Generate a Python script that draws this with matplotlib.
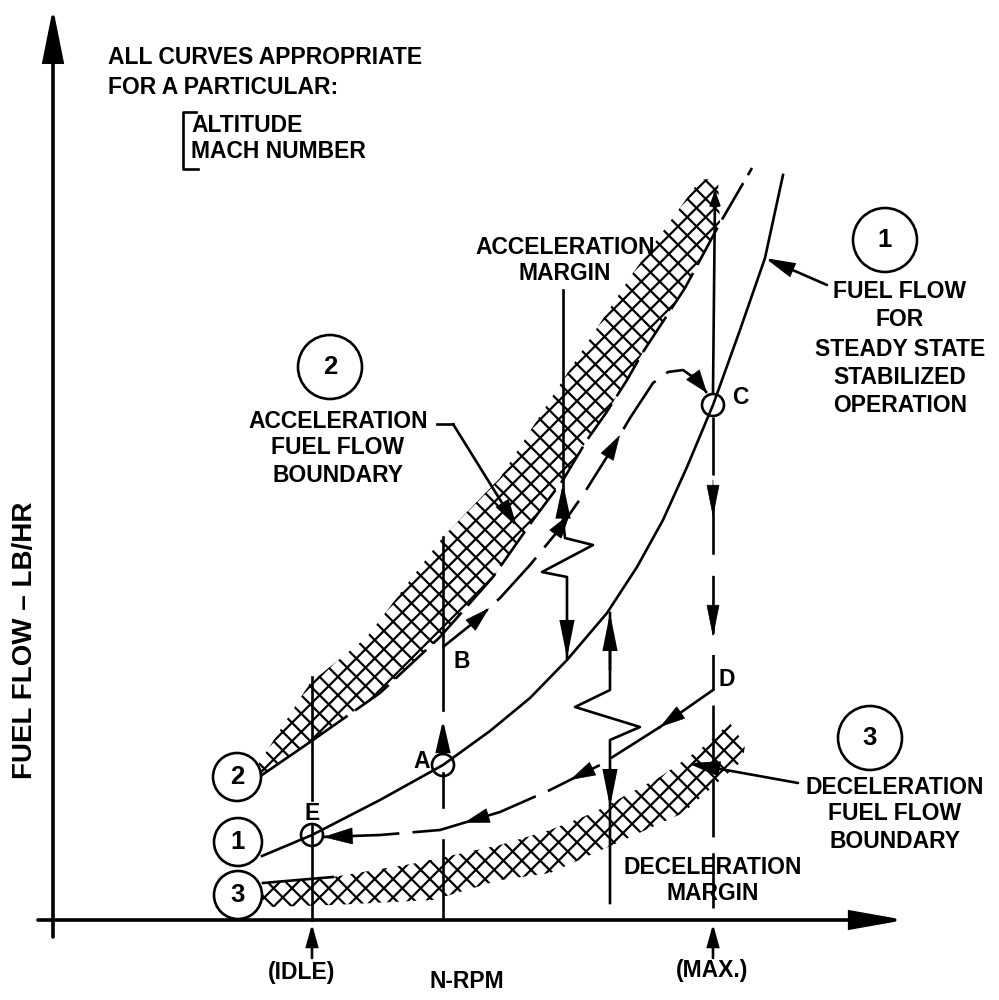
import matplotlib
matplotlib.use("Agg")
import matplotlib.pyplot as plt
import numpy as np
from matplotlib.patches import Circle, Polygon, FancyArrowPatch, ArrowStyle

plt.rcParams['font.family'] = ['Liberation Sans', 'DejaVu Sans']

# ---------------- data (schematic units: N-RPM across, fuel flow up) ----------------
# Curve 1 : steady state fuel flow
steady_rpm  = [209, 259, 327, 390, 437, 477, 514, 554, 584, 610, 634, 660, 687, 712, 730]
steady_flow = [64, 85, 120, 155, 189, 222, 260, 307, 353, 400, 453, 515, 590, 662, 745]

# Curve 2 : acceleration fuel flow boundary (lower edge of hatched band)
accel_rpm  = [209, 260, 327, 387, 440, 480, 510, 534, 553, 574, 590, 632, 667, 699]
accel_flow = [145, 180, 227, 283, 343, 400, 440, 480, 507, 540, 568, 632, 697, 752]
accel_band_rpm  = [205, 257, 314, 390, 447, 510, 580, 647, 665]
accel_band_flow = [155, 237, 283, 383, 442, 540, 647, 740, 742]

# Curve 3 : deceleration fuel flow boundary (upper edge) and hatched band lower edge
decel_rpm  = [210, 280, 364, 447, 497, 540, 607, 650, 677]
decel_flow = [37, 43, 57, 75, 90, 107, 143, 173, 197]
decel_band_rpm  = [210, 280, 380, 447, 497, 564, 630, 690, 692]
decel_band_flow = [13, 15, 20, 40, 47, 77, 107, 160, 175]

# Transient paths
accel_path_rpm  = [390, 420, 447, 477, 504, 530, 557, 577, 600, 615, 630, 644, 654]
accel_path_flow = [273, 297, 322, 355, 388, 425, 468, 502, 537, 548, 550, 540, 527]
decel_path_rpm  = [660, 607, 547, 497, 447, 387, 327, 270]
decel_path_flow = [230, 193, 155, 130, 108, 90, 85, 83]

# Reference speeds
idle_rpm = 259
max_rpm = 660

# Operating points
point_names = ['A', 'C', 'E']
point_rpm   = [390, 660, 259]
point_flow  = [155, 515, 85]
label_names = ['A', 'B', 'C', 'D', 'E']
label_rpm   = [369, 409, 687, 674, 259]
label_flow  = [158, 258, 523, 240, 107]

# Margins
accel_margin_rpm  = [510, 510, 512, 540, 489, 514, 514]
accel_margin_flow = [630, 400, 382, 375, 348, 343, 262]
decel_margin_rpm  = [557, 557, 522, 587, 557, 557]
decel_margin_flow = [307, 230, 213, 193, 180, 17]

# ---------------- drawing ----------------
fig = plt.figure(figsize=(9.99, 10), dpi=100)
ax = fig.add_axes([0, 0, 1, 1])
ax.set_xlim(-53, 946)
ax.set_ylim(-80, 920)
ax.axis('off')

LW = 1.9
K = 'black'
DASH = (0, (16, 3.5))
FS = 16.5


def arrow(tail, tip, hl=24, hw=7, lw=LW):
    ms = 20.0
    px = 100 / 72.0 * ms
    st = ArrowStyle('-|>', head_length=hl / px, head_width=hw / px)
    ax.add_patch(FancyArrowPatch(tail, tip, arrowstyle=st, mutation_scale=ms,
                                 lw=lw, color=K, shrinkA=0, shrinkB=0,
                                 joinstyle='miter', zorder=5))


def head_on(xs, ys, i, frac=1.0, hl=24, hw=7):
    x0, y0, x1, y1 = xs[i], ys[i], xs[i + 1], ys[i + 1]
    tx, ty = x0 + (x1 - x0) * frac, y0 + (y1 - y0) * frac
    d = ((x1 - x0) ** 2 + (y1 - y0) ** 2) ** 0.5
    ux, uy = (x1 - x0) / d, (y1 - y0) / d
    arrow((tx - ux * (hl + 2), ty - uy * (hl + 2)), (tx, ty), hl=hl, hw=hw, lw=0.5)


def crosshatch(verts, spacing=13.0, lw=1.6):
    poly = Polygon(verts, closed=True, facecolor='white', edgecolor='none', lw=0, zorder=1)
    ax.add_patch(poly)
    step = spacing * np.sqrt(2)
    xs = np.array([-100.0, 1000.0])
    for c in np.arange(-1200, 2200, step):
        for sgn in (1, -1):
            ln, = ax.plot(xs, sgn * xs + c, color=K, lw=lw, zorder=2,
                          solid_capstyle='butt', antialiased=True)
            ln.set_clip_path(poly)


# axes with arrowheads
arrow((0, -17), (0, 912), hl=45, hw=9, lw=2.6)
arrow((-15, 0), (852, 0), hl=45, hw=8, lw=2.6)

# hatched bands
band2 = list(zip(accel_band_rpm, accel_band_flow)) + list(zip(accel_rpm[::-1][1:], accel_flow[::-1][1:]))
crosshatch(band2)
band3 = list(zip(decel_rpm, decel_flow)) + list(zip(decel_band_rpm[::-1], decel_band_flow[::-1]))
crosshatch(band3)

# curve 1 steady state
ax.plot(steady_rpm, steady_flow, color=K, lw=LW, zorder=3)
# curve 2 boundary
ax.plot(accel_rpm[:2], accel_flow[:2], color=K, lw=LW, zorder=3)
ax.plot(accel_rpm[1:], accel_flow[1:], color=K, lw=LW, ls=DASH, zorder=3)
# curve 3 boundary
ax.plot(decel_rpm[:2], decel_flow[:2], color=K, lw=LW, zorder=3)

# acceleration path
ax.plot(accel_path_rpm, accel_path_flow, color=K, lw=LW, ls=(0, (22, 5)), zorder=3)
head_on(accel_path_rpm, accel_path_flow, 1, 0.6)
head_on(accel_path_rpm, accel_path_flow, 4, 0.5)
head_on(accel_path_rpm, accel_path_flow, 6, 0.5)
head_on(accel_path_rpm, accel_path_flow, 11, 1.0, hl=22, hw=8)

# deceleration path
ax.plot(decel_path_rpm[:2], decel_path_flow[:2], color=K, lw=LW, zorder=3)
ax.plot(decel_path_rpm[1:], decel_path_flow[1:], color=K, lw=LW, ls=(0, (22, 5)), zorder=3)
head_on(decel_path_rpm, decel_path_flow, 0, 1.0)
head_on(decel_path_rpm, decel_path_flow, 2, 0.6)
head_on(decel_path_rpm, decel_path_flow, 4, 0.6)
head_on(decel_path_rpm, decel_path_flow, 6, 1.0, hl=28, hw=8)

# idle vertical
ax.plot([idle_rpm, idle_rpm], [accel_band_flow[1] + 6, 120], color=K, lw=LW, zorder=3)
ax.plot([idle_rpm, idle_rpm], [95, 0], color=K, lw=LW, zorder=3)
arrow((idle_rpm, -38), (idle_rpm, -4), hl=18, hw=5, lw=LW)
# A-B vertical
ab = point_rpm[0]
ax.plot([ab, ab], [383, 210], color=K, lw=LW, zorder=3)
arrow((ab, 166), (ab, 200), hl=26, hw=6, lw=LW)
ax.plot([ab, ab], [147, 113], color=K, lw=LW, zorder=3)
ax.plot([ab, ab], [80, 3], color=K, lw=LW, zorder=3)
# max vertical
ax.plot([max_rpm + 2, max_rpm], [727, 527], color=K, lw=LW, zorder=3)
arrow((max_rpm + 2, 700), (max_rpm + 2, 730), hl=14, hw=5, lw=1)
ax.plot([max_rpm, max_rpm], [503, 230], color=K, lw=LW, ls=(0, (22, 8)), zorder=3)
arrow((max_rpm, 440), (max_rpm, 403), hl=30, hw=6, lw=0.5)
arrow((max_rpm, 320), (max_rpm, 283), hl=30, hw=6, lw=0.5)
ax.plot([max_rpm, max_rpm], [215, 12], color=K, lw=LW, ls=(0, (22, 6)), zorder=3)
arrow((max_rpm, -38), (max_rpm, -4), hl=18, hw=5, lw=LW)

# margins
ax.plot(accel_margin_rpm[:2], accel_margin_flow[:2], color=K, lw=LW, zorder=3)
arrow((accel_margin_rpm[1], 405), (accel_margin_rpm[1], 437), hl=28, hw=6, lw=LW)
ax.plot(accel_margin_rpm[1:], accel_margin_flow[1:], color=K, lw=LW, zorder=3)
arrow((accel_margin_rpm[-1], 300), (accel_margin_rpm[-1], accel_margin_flow[-1]), hl=30, hw=6, lw=LW)
ax.plot(decel_margin_rpm, decel_margin_flow, color=K, lw=LW, zorder=3)
arrow((decel_margin_rpm[0], 250), (decel_margin_rpm[0], decel_margin_flow[0]), hl=30, hw=6, lw=LW)
arrow((decel_margin_rpm[-1], 150), (decel_margin_rpm[-1], 113), hl=30, hw=6, lw=LW)

# operating point circles
for n, x, y in zip(point_names, point_rpm, point_flow):
    ax.add_patch(Circle((x, y), 11, fill=False, ec=K, lw=LW, zorder=4))
for n, x, y in zip(label_names, label_rpm, label_flow):
    ax.text(x, y, n, ha='center', va='center', fontsize=FS, fontweight='bold', zorder=6)

# curve number circles
for num, (cx, cy, r) in zip(['2', '1', '3'], [(184, 143, 24), (185, 78, 24), (185, 25, 24)]):
    ax.add_patch(Circle((cx, cy), r, facecolor='white', ec=K, lw=LW, zorder=4))
    ax.text(cx, cy, num, ha='center', va='center', fontsize=FS + 2, fontweight='bold', zorder=6)
for num, (cx, cy) in zip(['1', '2', '3'], [(832, 680), (277, 553), (817, 182)]):
    ax.add_patch(Circle((cx, cy), 32, fill=False, ec=K, lw=LW, zorder=4))
    ax.text(cx, cy, num, ha='center', va='center', fontsize=FS + 2, fontweight='bold')

# leaders
ax.plot([384, 400], [496, 496], color=K, lw=LW)
arrow((400, 496), (464, 393), hl=22, hw=6, lw=LW)
arrow((774, 635), (712, 662), hl=24, hw=6, lw=LW)
arrow((745, 137), (634, 157), hl=26, hw=6, lw=LW)

# text blocks
def block(x, ys, lines, ha='center'):
    for y, s in zip(ys, lines):
        ax.text(x, y, s, ha=ha, va='center', fontsize=FS, fontweight='bold')

block(55, [862, 833], ['ALL CURVES APPROPRIATE', 'FOR A PARTICULAR:'], ha='left')
block(138, [795, 768], ['ALTITUDE', 'MACH NUMBER'], ha='left')
ax.plot([143, 130, 130, 145], [808, 808, 751, 751], color=K, lw=LW)
block(512, [673, 646], ['ACCELERATION', 'MARGIN'])
block(847, [629, 600, 571, 543, 515], ['FUEL FLOW', 'FOR', 'STEADY STATE', 'STABILIZED', 'OPERATION'])
block(285, [499, 473, 444], ['ACCELERATION', 'FUEL FLOW', 'BOUNDARY'])
block(842, [133, 106, 79], ['DECELERATION', 'FUEL FLOW', 'BOUNDARY'])
block(660, [53, 27], ['DECELERATION', 'MARGIN'])
ax.text(249, -52, '(IDLE)', ha='center', va='center', fontsize=FS, fontweight='bold')
ax.text(659, -50, '(MAX.)', ha='center', va='center', fontsize=FS, fontweight='bold')
ax.text(414, -62, 'N-RPM', ha='center', va='center', fontsize=FS, fontweight='bold')
ax.text(-28, 280, 'FUEL FLOW – LB/HR', ha='center', va='center', rotation=90,
        fontsize=20, fontweight='bold')

fig.savefig('out.png', dpi=100)
